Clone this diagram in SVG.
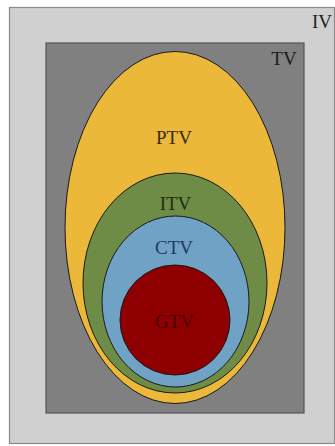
<svg xmlns="http://www.w3.org/2000/svg" width="335" height="446" viewBox="0 0 335 446">
<style>
text{font-family:"Liberation Serif","DejaVu Serif",serif;font-size:19px;text-anchor:middle}
.o{stroke:#1a1a1a;stroke-width:1}
</style>
<rect width="335" height="446" fill="#ffffff"/>
<g id="IV">
<rect x="9.5" y="7.5" width="325" height="436" fill="#d0d0d0" stroke="#8a8a8a" stroke-width="1.2"/>
<text x="322" y="28" fill="#222">IV</text>
</g>
<g id="TV">
<rect x="46" y="43" width="258" height="370" fill="#808080" stroke="#555" stroke-width="1.2"/>
<text x="284" y="65" fill="#1a1a1a">TV</text>
</g>
<g id="PTV">
<ellipse class="o" cx="175" cy="227.5" rx="110" ry="176" fill="#ebb83a"/>
<text x="174" y="144" fill="#3a2a10">PTV</text>
</g>
<g id="ITV">
<ellipse class="o" cx="175" cy="283" rx="92" ry="110" fill="#6e8c45"/>
<text x="175.5" y="210" fill="#1e2e10">ITV</text>
</g>
<g id="CTV">
<ellipse class="o" cx="175.5" cy="301.5" rx="73.5" ry="85.5" fill="#6fa2c4"/>
<text x="174" y="254" fill="#1e3a5c">CTV</text>
</g>
<g id="GTV">
<circle class="o" cx="175" cy="320" r="55" fill="#8e0000"/>
<text x="174.5" y="328" fill="#4a0000">GTV</text>
</g>
<g id="connectors"/>
</svg>
